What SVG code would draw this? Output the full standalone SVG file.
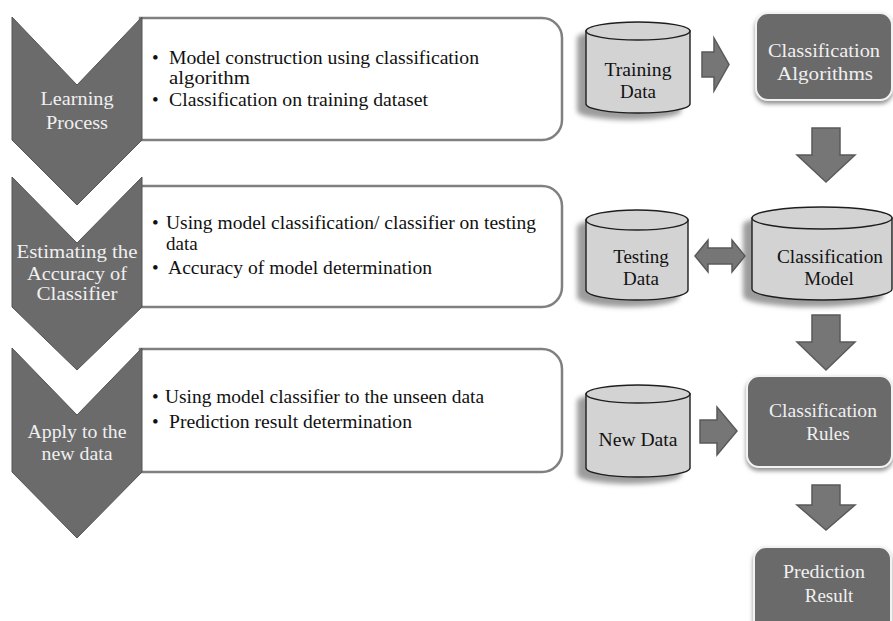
<svg xmlns="http://www.w3.org/2000/svg" width="893" height="621" viewBox="0 0 893 621" font-family="'Liberation Serif', 'Times New Roman', 'DejaVu Serif', serif" font-size="19">
<defs>
<style>
.chev{fill:#6b6b6b;stroke:#555;stroke-width:1}
.box{fill:#fff;stroke:#808080;stroke-width:2.5}
.dark{fill:#6b6b6b;stroke:#f2f2f2;stroke-width:2}
.cyl{fill:#d3d3d3;stroke:#1e1e1e;stroke-width:1.4}
.shd{fill:#9c9c9c}
.arr{fill:#767676;stroke:#5a5a5a;stroke-width:1.5;stroke-linejoin:miter}
.lt{fill:#f0f0f0;text-anchor:middle}
.bk{fill:#111}
.mid{fill:#111;text-anchor:middle}
</style>
<filter id="blur" x="-20%" y="-20%" width="140%" height="140%"><feGaussianBlur stdDeviation="2.5"/></filter>
<filter id="ds" x="-10%" y="-10%" width="120%" height="130%"><feDropShadow dx="0" dy="3" stdDeviation="2" flood-color="#777" flood-opacity="0.8"/></filter>
</defs>
<rect width="893" height="621" fill="#fff"/>

<g id="box1">
<path class="box" d="M140,18 H542 A20,20 0 0 1 562,38 V120 A20,20 0 0 1 542,140 H140 Z"/>
<text class="bk" x="152" y="64">•</text>
<text class="bk" x="169" y="64" textLength="310" lengthAdjust="spacingAndGlyphs">Model construction using classification</text>
<text class="bk" x="169" y="84" textLength="81" lengthAdjust="spacingAndGlyphs">algorithm</text>
<text class="bk" x="152" y="106">•</text>
<text class="bk" x="169" y="106" textLength="259" lengthAdjust="spacingAndGlyphs">Classification on training dataset</text>
</g>
<g id="box2">
<path class="box" d="M140,186 H542 A20,20 0 0 1 562,206 V287 A20,20 0 0 1 542,307 H140 Z"/>
<text class="bk" x="152" y="229">•</text>
<text class="bk" x="166" y="229" textLength="370" lengthAdjust="spacingAndGlyphs">Using model classification/ classifier on testing</text>
<text class="bk" x="166" y="250">data</text>
<text class="bk" x="152" y="274">•</text>
<text class="bk" x="168" y="274" textLength="264" lengthAdjust="spacingAndGlyphs">Accuracy of model determination</text>
</g>
<g id="box3">
<path class="box" d="M140,349 H542 A20,20 0 0 1 562,369 V452 A20,20 0 0 1 542,472 H140 Z"/>
<text class="bk" x="152" y="403">•</text>
<text class="bk" x="165" y="403" textLength="319" lengthAdjust="spacingAndGlyphs">Using model classifier to the unseen data</text>
<text class="bk" x="152" y="428">•</text>
<text class="bk" x="169" y="428" textLength="243" lengthAdjust="spacingAndGlyphs">Prediction result determination</text>
</g>

<g id="chevron1">
<path class="chev" d="M12,17 L77,85 L142,17 L142,140 L77,205 L12,140 Z"/>
<text class="lt" x="77" y="105" textLength="73" lengthAdjust="spacingAndGlyphs">Learning</text>
<text class="lt" x="77" y="129" textLength="62" lengthAdjust="spacingAndGlyphs">Process</text>
</g>
<g id="chevron2">
<path class="chev" d="M12,177 L77,243 L142,177 L142,307 L77,370 L12,307 Z"/>
<text class="lt" x="77" y="258" textLength="121" lengthAdjust="spacingAndGlyphs">Estimating the</text>
<text class="lt" x="77" y="280" textLength="100" lengthAdjust="spacingAndGlyphs">Accuracy of</text>
<text class="lt" x="77" y="300" textLength="81" lengthAdjust="spacingAndGlyphs">Classifier</text>
</g>
<g id="chevron3">
<path class="chev" d="M12,348 L77,415 L142,348 L142,472 L77,538 L12,472 Z"/>
<text class="lt" x="77" y="438" textLength="99" lengthAdjust="spacingAndGlyphs">Apply to the</text>
<text class="lt" x="77" y="460" textLength="71" lengthAdjust="spacingAndGlyphs">new data</text>
</g>

<g id="training-data">
<path class="shd" filter="url(#blur)" transform="translate(-9,7)" d="M586,31 L586,104 A52,9 0 0 0 690,104 L690,31 A52,9 0 0 0 586,31 Z"/>
<path class="cyl" d="M586,31 L586,104 A52,9 0 0 0 690,104 L690,31 Z"/>
<ellipse class="cyl" cx="638" cy="31" rx="52" ry="9"/>
<text class="mid" x="638" y="76" textLength="67" lengthAdjust="spacingAndGlyphs">Training</text>
<text class="mid" x="638" y="98">Data</text>
</g>
<g id="testing-data">
<path class="shd" filter="url(#blur)" transform="translate(-9,7)" d="M586,220 L586,290 A51,10 0 0 0 688,290 L688,220 A51,10 0 0 0 586,220 Z"/>
<path class="cyl" d="M586,220 L586,290 A51,10 0 0 0 688,290 L688,220 Z"/>
<ellipse class="cyl" cx="637" cy="220" rx="51" ry="10"/>
<text class="mid" x="641" y="263">Testing</text>
<text class="mid" x="641" y="285">Data</text>
</g>
<g id="classification-model">
<path class="shd" filter="url(#blur)" transform="translate(-9,7)" d="M752,218 L752,289 A70,11 0 0 0 892,289 L892,218 A70,11 0 0 0 752,218 Z"/>
<path class="cyl" d="M752,218 L752,289 A70,11 0 0 0 892,289 L892,218 Z"/>
<ellipse class="cyl" cx="822" cy="218" rx="70" ry="11"/>
<text class="mid" x="830" y="263" textLength="106" lengthAdjust="spacingAndGlyphs">Classification</text>
<text class="mid" x="829" y="285">Model</text>
</g>
<g id="new-data">
<path class="shd" filter="url(#blur)" transform="translate(-9,7)" d="M586,394 L586,468 A52,9 0 0 0 690,468 L690,394 A52,9 0 0 0 586,394 Z"/>
<path class="cyl" d="M586,394 L586,468 A52,9 0 0 0 690,468 L690,394 Z"/>
<ellipse class="cyl" cx="638" cy="394" rx="52" ry="9"/>
<text class="mid" x="638" y="446" textLength="79" lengthAdjust="spacingAndGlyphs">New Data</text>
</g>

<g id="classification-algorithms">
<rect class="dark" filter="url(#ds)" x="756" y="13" width="136" height="87" rx="12"/>
<text class="lt" x="824" y="57" textLength="112" lengthAdjust="spacingAndGlyphs">Classification</text>
<text class="lt" x="825" y="80" textLength="96" lengthAdjust="spacingAndGlyphs">Algorithms</text>
</g>
<g id="classification-rules">
<rect class="dark" filter="url(#ds)" x="747" y="376" width="145" height="91" rx="12"/>
<text class="lt" x="823" y="417" textLength="108" lengthAdjust="spacingAndGlyphs">Classification</text>
<text class="lt" x="828" y="440">Rules</text>
</g>
<g id="prediction-result">
<rect class="dark" filter="url(#ds)" x="754" y="547" width="137" height="92" rx="12"/>
<text class="lt" x="824" y="578" textLength="82" lengthAdjust="spacingAndGlyphs">Prediction</text>
<text class="lt" x="829" y="602">Result</text>
</g>

<g id="connectors">
<path class="arr" d="M702,52 H714 V38 L729,64.5 L714,91 V77 H702 Z"/>
<path class="arr" d="M695,256 L708,240 V248 H732 V240 L745,256 L732,272 V264 H708 V272 Z"/>
<path class="arr" d="M700,420 H717 V407 L737,431 L717,455 V443 H700 Z"/>
<path class="arr" d="M812,128 H840 V155 H855 L826,182 L797,155 H812 Z"/>
<path class="arr" d="M812,315 H840 V342 H855 L826,370 L797,342 H812 Z"/>
<path class="arr" d="M812,485 H840 V505 H855 L826,530 L797,505 H812 Z"/>
</g>
</svg>
